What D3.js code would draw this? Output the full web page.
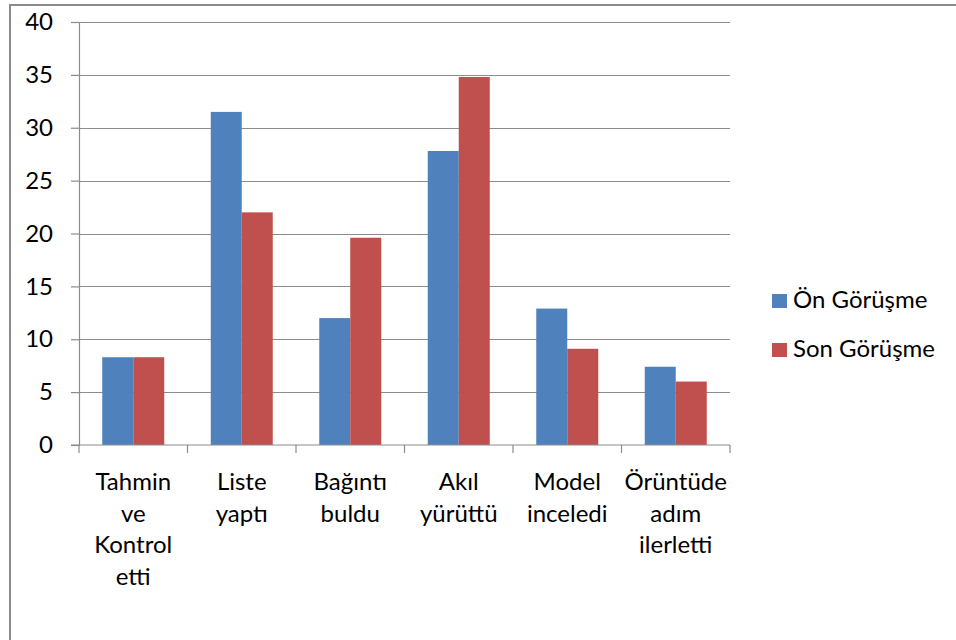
<!DOCTYPE html>
<html>
<head>
<meta charset="utf-8">
<script src="https://cdn.jsdelivr.net/npm/d3@7"></script>
<style>
  html, body { margin: 0; padding: 0; background: #fff; }
  svg { display: block; }
  text { font-family: Lato, "Open Sans", sans-serif; fill: #000; }
</style>
</head>
<body>
<svg id="chart" width="956" height="640"></svg>
<script>
// ---- data ----
const categories = ["Tahmin ve Kontrol etti", "Liste yaptı", "Bağıntı buldu", "Akıl yürüttü", "Model inceledi", "Örüntüde adım ilerletti"];
const categoryLines = [["Tahmin", "ve", "Kontrol", "etti"], ["Liste", "yaptı"], ["Bağıntı", "buldu"], ["Akıl", "yürüttü"], ["Model", "inceledi"], ["Örüntüde", "adım", "ilerletti"]];
const seriesNames = ["Ön Görüşme", "Son Görüşme"];
const onGorusme = [8.3, 31.5, 12.0, 27.8, 12.9, 7.4];
const sonGorusme = [8.3, 22.0, 19.6, 34.8, 9.1, 6.0];
const yTicks = [0, 5, 10, 15, 20, 25, 30, 35, 40];
const colors = ["#4F81BD", "#C0504D"];

const seriesValues = [onGorusme, sonGorusme];
const svg = d3.select("#chart");

// outer frame (partially cropped)
svg.append("path")
  .attr("d", "M10,645 L10,5 L960,5")
  .attr("fill", "none")
  .attr("stroke", "#8a8a8a")
  .attr("stroke-width", 2);

const plot = { left: 79, right: 730, top: 22, bottom: 445 };

const y = d3.scaleLinear().domain([0, 40]).range([plot.bottom, plot.top]);
const x0 = d3.scaleBand().domain(categories).range([plot.left, plot.right]).padding(0);
const x1 = d3.scaleBand().domain(seriesNames).range([0, x0.bandwidth()]).paddingInner(0).paddingOuter(0.75);

const gridColor = "#8c8c8c";

// gridlines
svg.append("g").selectAll("line")
  .data(yTicks.filter(t => t !== 0))
  .join("line")
  .attr("x1", plot.left).attr("x2", plot.right)
  .attr("y1", d => Math.round(y(d)) + 0.5).attr("y2", d => Math.round(y(d)) + 0.5)
  .attr("stroke", gridColor).attr("stroke-width", 1.2);

// bars
const groups = svg.append("g").selectAll("g")
  .data(categories)
  .join("g")
  .attr("transform", c => `translate(${x0(c)},0)`);

groups.selectAll("rect")
  .data((c, i) => seriesNames.map((s, j) => ({ s, j, v: seriesValues[j][i] })))
  .join("rect")
  .attr("x", d => x1(d.s))
  .attr("width", x1.bandwidth())
  .attr("y", d => y(d.v))
  .attr("height", d => y(0) - y(d.v))
  .attr("fill", d => colors[d.j]);

// y axis
const yAxis = d3.axisLeft(y).tickValues(yTicks).tickSize(8).tickPadding(18).tickFormat(d3.format("d"));
const gy = svg.append("g").attr("transform", `translate(${plot.left},0)`).call(yAxis);
gy.select(".domain").attr("stroke", gridColor).attr("stroke-width", 1.2);
gy.selectAll(".tick line").attr("stroke", gridColor).attr("stroke-width", 1.2);
gy.selectAll(".tick text").attr("font-size", 24).attr("font-family", "Lato, 'Open Sans', sans-serif").attr("fill", "#000");

// x axis line
svg.append("line")
  .attr("x1", plot.left - 8).attr("x2", plot.right)
  .attr("y1", y(0)).attr("y2", y(0))
  .attr("stroke", gridColor).attr("stroke-width", 1.2);

// x ticks at category boundaries
const boundaries = categories.map(c => x0(c)).concat([x0.range()[1]]);
svg.append("g").selectAll("line")
  .data(boundaries)
  .join("line")
  .attr("x1", d => d).attr("x2", d => d)
  .attr("y1", y(0)).attr("y2", y(0) + 8)
  .attr("stroke", gridColor).attr("stroke-width", 1.2);

// category labels
const labels = svg.append("g").selectAll("text")
  .data(categories)
  .join("text")
  .attr("text-anchor", "middle")
  .attr("font-size", 24)
  .attr("x", c => x0(c) + x0.bandwidth() / 2)
  .attr("y", 490);
labels.selectAll("tspan")
  .data((c, i) => categoryLines[i])
  .join("tspan")
  .attr("x", function () { return d3.select(this.parentNode).attr("x"); })
  .attr("dy", (d, i) => i === 0 ? 0 : 31.7)
  .text(d => d);

// legend
const legend = svg.append("g").selectAll("g")
  .data(seriesNames)
  .join("g")
  .attr("transform", (d, i) => `translate(772,${294 + i * 49})`);
legend.append("rect")
  .attr("width", 15).attr("height", 14)
  .attr("fill", (d, i) => colors[i]);
legend.append("text")
  .attr("x", 21).attr("y", 14)
  .attr("font-size", 24)
  .text(d => d);
</script>
</body>
</html>
